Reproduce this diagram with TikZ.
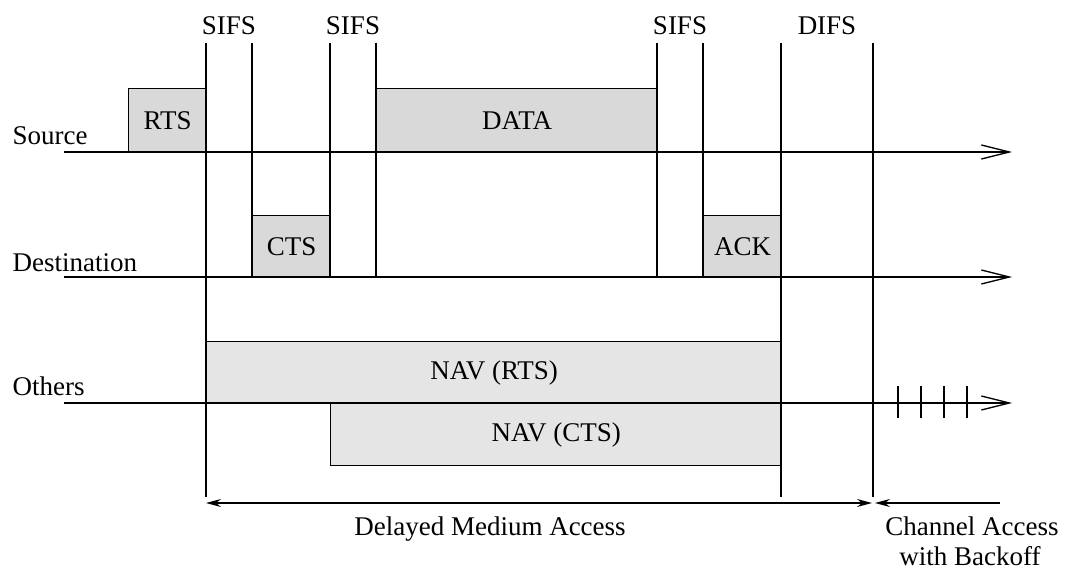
\documentclass[tikz,border=0pt]{standalone}
\usepackage{fontspec}
\setmainfont{Liberation Serif}
\usetikzlibrary{arrows.meta}
\definecolor{boxgray}{HTML}{D9D9D9}
\definecolor{navgray}{HTML}{E5E5E5}
\begin{document}
\begin{tikzpicture}[x=1pt,y=-1pt,line width=1.3pt,
  every node/.style={font=\fontsize{27}{32}\selectfont},
  frame/.style={draw,fill=boxgray,inner sep=0pt,anchor=north west},
  navframe/.style={draw,fill=navgray,inner sep=0pt,anchor=north west},
  lbl/.style={inner sep=0pt,anchor=base west},
  toplbl/.style={inner sep=0pt,anchor=base},
  axis/.style={-{Straight Barb[length=28pt,width=14pt,line width=1.3pt]}},
  span/.style={{Stealth[length=15pt,width=8pt,inset=5pt]}-{Stealth[length=15pt,width=8pt,inset=5pt]}},
  halfspan/.style={-{Stealth[length=15pt,width=8pt,inset=5pt]}}
]
\useasboundingbox (0,0) rectangle (1065,569);

% frames
\node[frame,minimum width=78pt,minimum height=64pt] (rts) at (128,88) {RTS};
\node[frame,minimum width=281pt,minimum height=64pt] (data) at (376,88) {DATA};
\node[frame,minimum width=78pt,minimum height=62pt] (cts) at (252,215) {CTS};
\node[frame,minimum width=78pt,minimum height=62pt] (ack) at (703,215) {ACK};
\node[navframe,minimum width=575pt,minimum height=62pt] (navr) at (206,341) {NAV (RTS)};
\node[navframe,minimum width=451pt,minimum height=62pt] (navc) at (330,403) {NAV (CTS)};

% row labels
\node[lbl] (lsrc) at (12,145) {Source};
\node[lbl] (ldst) at (12,272) {Destination};
\node[lbl] (loth) at (12,395) {Others};

% time axes
\coordinate (s0) at (64,152); \coordinate (s1) at (1012,152);
\coordinate (d0) at (64,277); \coordinate (d1) at (1012,277);
\coordinate (o0) at (64,403); \coordinate (o1) at (1012,403);
\draw[axis] (s0) -- (s1);
\draw[axis] (d0) -- (d1);
\draw[axis] (o0) -- (o1);

% vertical markers
\draw (206,43) -- (206,497);
\draw (252,43) -- (252,277);
\draw (330,43) -- (330,277);
\draw (376,43) -- (376,277);
\draw (657,43) -- (657,277);
\draw (703,43) -- (703,277);
\draw (781,43) -- (781,497);
\draw (873,43) -- (873,497);

% interval labels
\node[toplbl] (sifs1) at (229,35) {SIFS};
\node[toplbl] (sifs2) at (353,35) {SIFS};
\node[toplbl] (sifs3) at (680,35) {SIFS};
\node[toplbl] (difs) at (827,35) {DIFS};

% backoff slots
\foreach \x in {898,921,944,967} \draw (\x,386) -- (\x,418);

% bottom spans
\coordinate (a0) at (206,503); \coordinate (a1) at (872,503);
\coordinate (b0) at (1000,503); \coordinate (b1) at (875,503);
\draw[span,line width=1.1pt] (a0) -- (a1);
\draw[halfspan,line width=1.1pt] (b0) -- (b1);
\node[toplbl] (dma) at (490,535) {Delayed Medium Access};
\node[toplbl] (cab1) at (972,535) {Channel Access};
\node[toplbl] (cab2) at (970,565) {with Backoff};
\end{tikzpicture}
\end{document}
